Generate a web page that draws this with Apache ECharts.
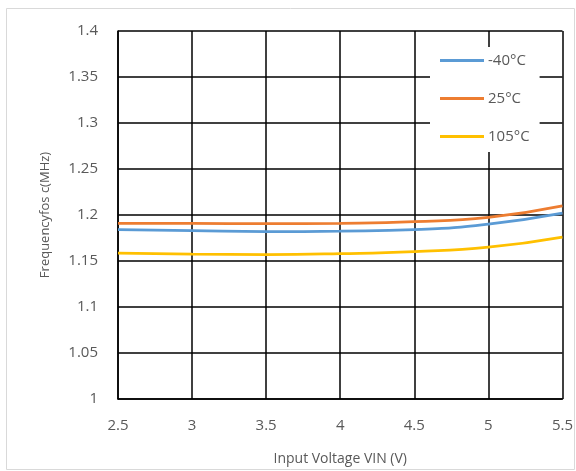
<!DOCTYPE html>
<html><head><meta charset="utf-8">
<script src="https://cdn.jsdelivr.net/npm/echarts@6/dist/echarts.min.js"></script>
<style>html,body{margin:0;padding:0;background:#fff}#c{width:576px;height:471px}</style>
</head><body><div id="c"></div>
<script>
const vin = [2.5, 3, 3.5, 4, 4.5, 5, 5.5];
const seriesNames = ['-40°C', '25°C', '105°C'];
const fMinus40 = [1.184, 1.183, 1.182, 1.1825, 1.184, 1.190, 1.202];
const f25 = [1.191, 1.191, 1.1905, 1.191, 1.1928, 1.1975, 1.210];
const f105 = [1.1586, 1.1575, 1.157, 1.158, 1.1603, 1.165, 1.176];
const colors = ['#5B9BD5', '#ED7D31', '#FFC000'];
const font = 'Open Sans';
const chart = echarts.init(document.getElementById('c'), null, {renderer: 'canvas'});
const mk = (name, ys, col) => ({
  name, type: 'line', smooth: true, showSymbol: false, symbol: 'none',
  data: vin.map((x, i) => [x, ys[i]]),
  lineStyle: {color: col, width: 2.75}, itemStyle: {color: col}
});
chart.setOption({
  animation: false,
  backgroundColor: '#fff',
  graphic: [{type: 'rect', shape: {x: 6.5, y: 8.5, width: 568, height: 461},
    style: {fill: 'none', stroke: '#d9d9d9', lineWidth: 1}, z: -10}],
  grid: {left: 118, right: 13, top: 31, bottom: 70, containLabel: false},
  xAxis: {
    type: 'value', min: 2.5, max: 5.5, interval: 0.5,
    name: 'Input Voltage VIN (V)', nameLocation: 'middle', nameGap: 53,
    nameTextStyle: {color: '#595959', fontSize: 14, fontFamily: font},
    axisLine: {show: true, lineStyle: {color: '#000', width: 1.5}},
    axisTick: {show: false},
    axisLabel: {color: '#595959', fontSize: 15, fontFamily: font, margin: 19},
    splitLine: {show: true, lineStyle: {color: '#000', width: 1.5}}
  },
  yAxis: {
    type: 'value', min: 1, max: 1.4, interval: 0.05,
    name: 'Frequencyfos c(MHz)', nameLocation: 'middle', nameGap: 66,
    nameTextStyle: {color: '#595959', fontSize: 13, fontFamily: font},
    axisLine: {show: true, lineStyle: {color: '#000', width: 1.5}},
    axisTick: {show: false},
    axisLabel: {color: '#595959', fontSize: 15, fontFamily: font, margin: 20},
    splitLine: {show: true, lineStyle: {color: '#000', width: 1.5}}
  },
  legend: {
    orient: 'vertical', left: 430, top: 47, padding: [6, 10, 8, 10],
    backgroundColor: '#fff', itemWidth: 44, itemHeight: 3, itemGap: 23,
    icon: 'rect', data: seriesNames,
    textStyle: {color: '#595959', fontSize: 15, fontFamily: font, padding: [0, 0, 0, -1]}
  },
  series: [mk(seriesNames[0], fMinus40, colors[0]), mk(seriesNames[1], f25, colors[1]), mk(seriesNames[2], f105, colors[2])]
});
</script></body></html>
